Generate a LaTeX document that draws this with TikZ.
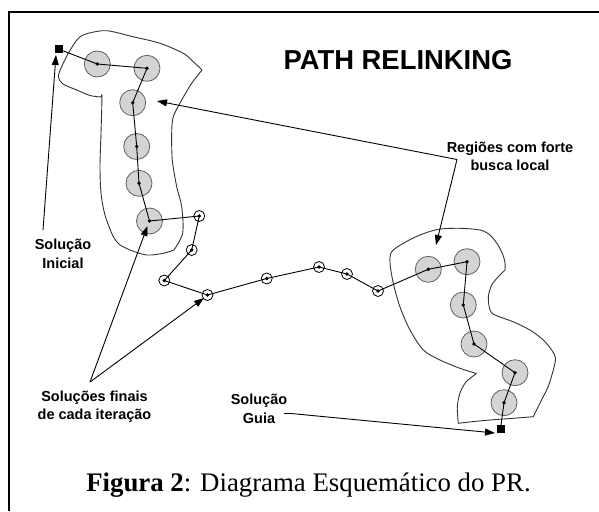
\documentclass[tikz,border=0pt]{standalone}
\usepackage{fontspec}
\setmainfont{Liberation Serif}
\newfontfamily\lblfont{Liberation Sans}
\usetikzlibrary{arrows.meta}

\begin{document}
\begin{tikzpicture}[x=1pt,y=-1pt,
  bigsol/.style={circle, draw=black!62, fill=black!17, line width=0.8pt, minimum size=26pt, inner sep=0pt},
  smallsol/.style={circle, draw=black, fill=white, line width=0.8pt, minimum size=11pt, inner sep=0pt},
  endsol/.style={rectangle, fill=black, minimum size=8pt, inner sep=0pt},
  link/.style={draw=black, line width=0.9pt},
  pointer/.style={draw=black, line width=0.9pt, -{Triangle[length=10pt,width=7pt]}},
  region/.style={draw=black!80, line width=0.9pt, line join=round},
  lbl/.style={font=\lblfont\bfseries\fontsize{14.5}{18.5}\selectfont, align=center, text=black, inner sep=0pt},
]
\fill[white] (0,0) rectangle (599,511);
\useasboundingbox (0,0) rectangle (599,511);

% frame
\draw[line width=1.4pt] (9,511) -- (9,12) -- (599,12);

% regions of intensive local search
\draw[region]
  plot[smooth,tension=.5] coordinates {(101,97) (90,95.5) (76.7,90) (63,84) (58.3,76.7) (61.7,66.7) (68.3,53.3) (78.3,38.3) (88.3,33.3) (106.7,30.7) (133,36.7) (160,43.3) (183.3,53.3) (193.3,61.7) (202,70)}
  -- plot[smooth,tension=.5] coordinates {(202,70) (191.7,83.3) (181.7,100) (173.3,116.7) (171.7,133) (172.3,160) (176.7,186.7) (181.7,206.7) (182.7,233) (174,250)}
  -- plot[smooth,tension=.5] coordinates {(174,250) (163.3,253.3) (146.7,255) (130,250) (120,245)}
  -- plot[smooth,tension=.5] coordinates {(120,245) (113.3,236.7) (105,215) (101,193.3) (100,166.7) (101,133) (101.7,110) (102,94.5)}
  -- (101,97);

\draw[region]
  plot[smooth,tension=.5] coordinates {(476.5,373.5) (466,382) (460,393) (457.3,407) (458.3,423.3)}
  -- plot[smooth,tension=.5] coordinates {(458.3,423.3) (472,421.7) (490,420) (513,418.3) (533.3,416.7)}
  -- plot[smooth,tension=.5] coordinates {(533.3,416.7) (540,403) (548,387) (553.3,370) (555.5,358) (551.7,350) (543.3,340) (530,330) (513,321.7) (495,315) (490,310) (488.3,297) (491.7,285) (498.3,276.7) (505,270)}
  -- plot[smooth,tension=.5] coordinates {(505,270) (505,263) (503,255) (498,245) (490,235) (480,230) (460,228.3) (438.3,229.3) (420,235) (403.3,243.3) (391.7,251.7) (390,263) (393.3,283.3) (400,307) (410,330) (423.3,350) (440,360) (460,368.3) (476.5,373.5)};

% solutions
\node[endsol] (sq1) at (58.8,49.2) {};
\node[bigsol] (b1) at (97.3,64) {};
\node[bigsol] (b2) at (147,68.3) {};
\node[bigsol] (b3) at (132.7,102.7) {};
\node[bigsol] (b4) at (136.7,146.5) {};
\node[bigsol] (b5) at (139,183.3) {};
\node[bigsol] (b6) at (149.5,221) {};
\node[smallsol] (s1) at (199.3,216) {};
\node[smallsol] (s2) at (191.7,250) {};
\node[smallsol] (s3) at (164.3,280.5) {};
\node[smallsol] (s4) at (207.5,295) {};
\node[smallsol] (s5) at (266.7,278.5) {};
\node[smallsol] (s6) at (319,267) {};
\node[smallsol] (s7) at (347,274) {};
\node[smallsol] (s8) at (378,291) {};
\node[bigsol] (c1) at (428.3,269.3) {};
\node[bigsol] (c2) at (467,261.7) {};
\node[bigsol] (c3) at (463.3,305) {};
\node[bigsol] (c4) at (474,344) {};
\node[bigsol] (c5) at (515,372.7) {};
\node[bigsol] (c6) at (504,402.7) {};
\node[endsol] (sq2) at (500.5,429) {};

% path between the initial and the guiding solution
\draw[link] (sq1.center) -- (b1.center) -- (b2.center) -- (b3.center) -- (b4.center) -- (b5.center) -- (b6.center)
  -- (s1.center) -- (s2.center) -- (s3.center) -- (s4.center) -- (s5.center) -- (s6.center) -- (s7.center) -- (s8.center)
  -- (c1.center) -- (c2.center) -- (c3.center) -- (c4.center) -- (c5.center) -- (c6.center) -- (sq2.center);
\foreach \n in {b1,b2,b3,b4,b5,b6,s1,s2,s3,s4,s5,s6,s7,s8,c1,c2,c3,c4,c5,c6}
  \fill (\n.center) circle (1.9pt);

% labels
\node[font=\lblfont\bfseries\fontsize{27.4}{32}\selectfont, inner sep=0pt] (title) at (398,60) {PATH RELINKING};
\node[lbl] (reg) at (510,156.5) {Regiões com forte\\busca local};
\node[lbl] (ini) at (63,254) {Solução\\Inicial};
\node[lbl] (fin) at (94.5,406.5) {Soluções finais\\de cada iteração};
\node[lbl] (gui) at (259,409) {Solução\\Guia};
\node[font=\fontsize{26.8}{30}\selectfont, inner sep=0pt] (cap) at (308.5,485) {\textbf{Figura 2}: Diagrama Esquemático do PR.};

% pointers from the labels
\coordinate (iniFoot) at (43,230);
\coordinate (iniTip) at (56,55);
\coordinate (regJoin) at (457,159.5);
\coordinate (regTipA) at (157,101);
\coordinate (regTipB) at (436,245);
\coordinate (finApex) at (90,382);
\coordinate (finTipA) at (147.5,226);
\coordinate (finTipB) at (204,298);
\coordinate (guiFoot) at (284,413.5);
\coordinate (guiBend) at (291,413.5);
\coordinate (guiTip) at (495,433);

\draw[pointer] (iniFoot) -- (iniTip);
\draw[pointer] (regJoin) -- (regTipA);
\draw[pointer] (regJoin) -- (regTipB);
\draw[pointer] (finApex) -- (finTipA);
\draw[pointer] (finApex) -- (finTipB);
\draw[pointer] (guiFoot) -- (guiBend) -- (guiTip);
\end{tikzpicture}
\end{document}
